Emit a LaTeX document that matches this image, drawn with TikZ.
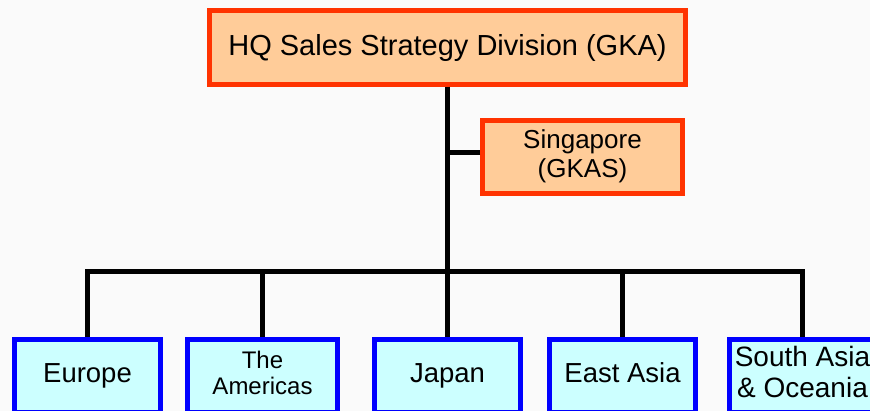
\documentclass[tikz,border=0pt]{standalone}
\usepackage{fontspec}
\setmainfont{Liberation Sans}
\definecolor{hqfill}{HTML}{FFCC99}
\definecolor{hqline}{HTML}{FF3300}
\definecolor{rgfill}{HTML}{CCFFFF}
\definecolor{rgline}{HTML}{0000FF}
\definecolor{bg}{HTML}{FAFAFA}
\tikzset{
  hqbox/.style={draw=hqline, fill=hqfill, line width=4.5pt, rectangle, align=center, inner sep=0pt, text=black},
  rgbox/.style={draw=rgline, fill=rgfill, line width=4.5pt, rectangle, align=center, inner sep=0pt, text=black, minimum width=146pt, minimum height=73pt},
  conn/.style={line width=5pt, black}
}
\begin{document}
\begin{tikzpicture}[x=1pt,y=-1pt]
\clip (0,0) rectangle (870,411);
\fill[bg] (0,0) rectangle (870,411);
\node[hqbox, minimum width=476pt, minimum height=74pt, font=\fontsize{29}{42}\selectfont] (hq) at (447.5,47.5) {\strut HQ Sales Strategy Division (GKA)};
\node[hqbox, minimum width=200pt, minimum height=73pt, font=\fontsize{26}{29.5}\selectfont] (sg) at (582.5,157) {\strut Singapore\\\strut (GKAS)};
\node[rgbox, font=\fontsize{27.5}{33}\selectfont] (eu) at (87.5,376) {\strut Europe};
\node[rgbox, minimum width=150pt, font=\fontsize{24}{26}\selectfont] (am) at (262.5,376) {\strut The\\\strut Americas};
\node[rgbox, font=\fontsize{27.5}{33}\selectfont] (jp) at (447.5,376) {\strut Japan};
\node[rgbox, font=\fontsize{27.5}{33}\selectfont] (ea) at (622.5,376) {\strut East Asia};
\node[rgbox, font=\fontsize{28}{30}\selectfont] (sa) at (802.5,376) {\strut South Asia\\\strut\& Oceania};
\coordinate (bar) at (447.5,272);
\draw[conn] (hq.south) -- (jp.north);
\draw[conn] ([yshift=4pt]sg.west) -- ([yshift=4pt]sg.west -| hq.south);
\draw[conn, line join=miter] (eu.north) -- (eu.north |- bar) -- (sa.north |- bar) -- (sa.north);
\draw[conn] (am.north) -- (am.north |- bar);
\draw[conn] (ea.north) -- (ea.north |- bar);
\end{tikzpicture}
\end{document}
